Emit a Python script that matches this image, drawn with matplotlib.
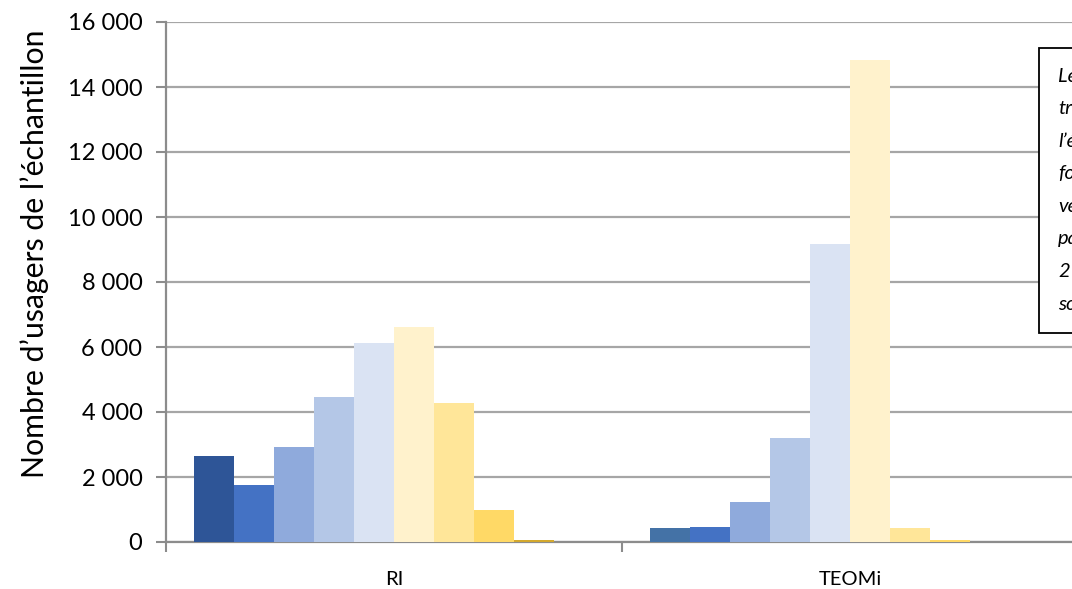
import matplotlib
matplotlib.use("Agg")
import matplotlib.pyplot as plt
from matplotlib.patches import Rectangle
from matplotlib.ticker import FuncFormatter, FixedLocator

categories = ["RI", "TEOMi"]
ri_values = [2650, 1750, 2920, 4460, 6120, 6615, 4277, 985, 50, 0]
teomi_values = [430, 470, 1220, 3190, 9170, 14830, 430, 60, 0, 0]
ri_colors = ["#2E5597", "#4472C4", "#8FAADC", "#B4C7E7", "#DAE3F3",
             "#FFF2CC", "#FFE699", "#FFD966", "#D4A92E", "#F4C242"]
teomi_colors = ["#4472A6", "#4472C4", "#8FAADC", "#B4C7E7", "#DAE3F3",
                "#FFF2CC", "#FFE699", "#FFD966", "#D4A92E", "#F4C242"]
yticks = [0, 2000, 4000, 6000, 8000, 10000, 12000, 14000, 16000]
note_lines = ["Lecture :", "tranche", "l\u2019échantillon", "foyers", "versent",
              "par", "2", "sont"]

plt.rcParams['font.family'] = ['Lato', 'DejaVu Sans']

W, H = 1072, 589
fig = plt.figure(figsize=(W / 100, H / 100), dpi=100)
ax = fig.add_axes([166 / W, 47 / H, 912 / W, 520 / H])

gap = 28 / 456
bw = 40 / 456
for gi, (vals, cols) in enumerate([(ri_values, ri_colors), (teomi_values, teomi_colors)]):
    for j, (v, c) in enumerate(zip(vals, cols)):
        if v <= 0:
            continue
        ax.bar(gi + gap + j * bw, v, width=bw, align='edge', color=c,
               edgecolor='none', linewidth=0, zorder=3)

ax.set_xlim(0, 2)
ax.set_ylim(0, 16000)
ax.set_yticks(yticks)
ax.yaxis.set_major_formatter(FuncFormatter(lambda v, p: f"{int(v):,}".replace(",", " ")))
ax.grid(axis='y', color='#A6A6A6', linewidth=1.6, zorder=0)
ax.set_axisbelow(True)

ax.xaxis.set_major_locator(FixedLocator([0, 1, 2]))
ax.xaxis.set_major_formatter(FuncFormatter(lambda v, p: ""))
ax.xaxis.set_minor_locator(FixedLocator([0.5, 1.5]))
ax.set_xticklabels(categories, minor=True)
ax.tick_params(axis='x', which='major', length=7, width=1.5, color='#8C8C8C', direction='out')
ax.tick_params(axis='x', which='minor', length=0, pad=21, labelsize=14.5)
ax.tick_params(axis='y', length=7, width=1.5, color='#8C8C8C', labelsize=17, pad=10)

for s in ['top', 'right']:
    ax.spines[s].set_visible(False)
for s in ['left', 'bottom']:
    ax.spines[s].set_color('#8C8C8C')
    ax.spines[s].set_linewidth(1.6)

ax.set_ylabel("Nombre d\u2019usagers de l\u2019échantillon", fontsize=21.8)
ax.yaxis.set_label_coords(-0.128, 0.554)

# Note box (cut off at the right edge, as in the reference)
box = Rectangle((1039 / W, 1 - 333 / H), 60 / W, (333 - 48) / H,
                transform=fig.transFigure, facecolor='white', edgecolor='black',
                linewidth=1.3, zorder=10)
fig.add_artist(box)
for k, line in enumerate(note_lines):
    fig.text(1058 / W, 1 - (76 + k * 32.6) / H, line, fontsize=14.5, style='italic',
             va='center', ha='left', zorder=11)

fig.savefig("out.png", dpi=100)
